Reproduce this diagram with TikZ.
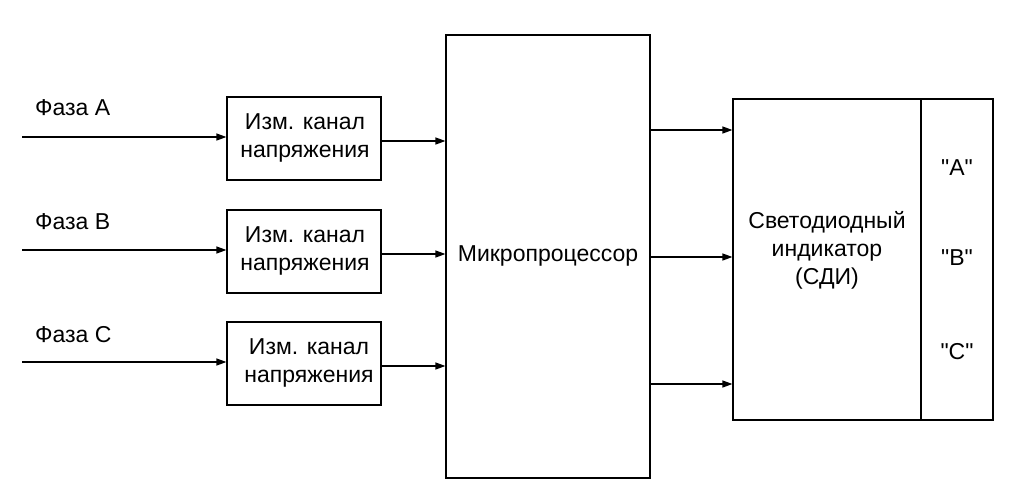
\documentclass[tikz,border=0pt]{standalone}
\usepackage{fontspec}
\setmainfont{Liberation Sans}[Ligatures=TeXOff]
\usetikzlibrary{arrows.meta}
\begin{document}
\begin{tikzpicture}[x=1pt,y=-1pt,
  every node/.style={font=\fontsize{23}{28}\selectfont, inner sep=0pt},
  blk/.style={draw, line width=1.2pt},
  conn/.style={line width=1.3pt, -{Triangle[length=10pt,width=7pt]}},
  txt/.style={align=center}]
\useasboundingbox (0,0) rectangle (1025,496);
% channel boxes
\node[blk, minimum width=154pt, minimum height=83pt] (k1) at (304,138.5) {};
\node[blk, minimum width=154pt, minimum height=83pt] (k2) at (304,251.5) {};
\node[blk, minimum width=154pt, minimum height=83pt] (k3) at (304,363.5) {};
\node[txt] at (305,138) {Изм. канал\\напряжения};
\node[txt] at (305,251) {Изм. канал\\напряжения};
\node[txt] at (309,363) {Изм. канал\\напряжения};
% microprocessor
\node[blk, minimum width=204pt, minimum height=443pt] (mp) at (548,256.5) {};
\node at (548,256) {Микропроцессор};
% SDI
\node[blk, minimum width=260pt, minimum height=321pt] (sdi) at (863,259.5) {};
\coordinate (dtop) at (921,99);
\coordinate (dbot) at (921,420);
\draw[line width=1.2pt] (dtop) -- (dbot);
\node[txt] at (827,250) {Светодиодный\\индикатор\\(СДИ)};
\node at (957,168) {"A"};
\node at (957,258) {"B"};
\node at (957,352) {"C"};
% inputs
\coordinate (i1) at (22,137);
\coordinate (i2) at (22,250);
\coordinate (i3) at (22,362);
\node[anchor=west] at (35,108) {Фаза A};
\node[anchor=west] at (35,222) {Фаза B};
\node[anchor=west] at (35,335) {Фаза C};
\draw[conn] (i1) -- (i1 -| k1.west);
\draw[conn] (i2) -- (i2 -| k2.west);
\draw[conn] (i3) -- (i3 -| k3.west);
% channel to mp
\coordinate (o1) at (381,141);
\coordinate (o2) at (381,254);
\coordinate (o3) at (381,366);
\draw[conn] (o1) -- (o1 -| mp.west);
\draw[conn] (o2) -- (o2 -| mp.west);
\draw[conn] (o3) -- (o3 -| mp.west);
% mp to sdi
\coordinate (m1) at (650,130);
\coordinate (m2) at (650,257);
\coordinate (m3) at (650,384);
\draw[conn] (m1) -- (m1 -| sdi.west);
\draw[conn] (m2) -- (m2 -| sdi.west);
\draw[conn] (m3) -- (m3 -| sdi.west);
\end{tikzpicture}
\end{document}
